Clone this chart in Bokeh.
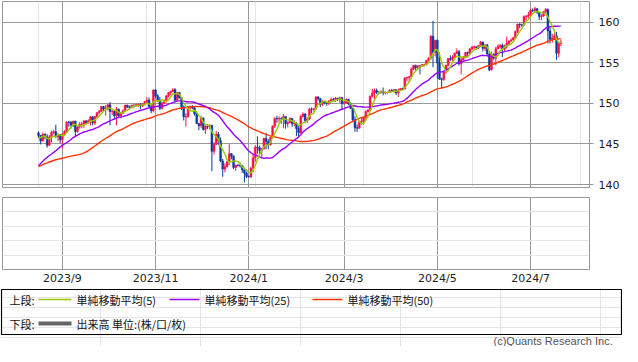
import numpy as np
import pandas as pd
from bokeh.plotting import figure
from bokeh.layouts import column
from bokeh.models import Range1d, FixedTicker, Grid, ColumnDataSource
from bokeh.core.properties import value
from bokeh.embed import file_html
from bokeh.resources import INLINE

# ---------------- data (USD/JPY daily, weekdays) ----------------
start_date = "2023-08-17"
end_date = "2024-07-19"

# closes before the first candle (needed for the moving averages)
prior_closes = [139.4, 139.6, 140.2, 140.0, 140.3, 141.8, 141.9, 141.4, 141.9, 143.1, 143.7, 143.5, 143.6, 144.3, 144.8, 144.3,
                144.7, 144.5, 144.6, 144.1, 142.1, 141.3, 140.4, 138.6, 138.1, 138.8, 138.7, 139.4, 139.8, 140.0, 141.8, 141.5,
                140.9, 140.3, 139.5, 141.2, 142.3,
                143.3, 143.3, 142.6, 141.8, 142.5, 143.4, 143.7, 144.7, 144.9, 145.6, 145.6, 146.4]

opens = [
    # Aug 2023
    146.37, 146.05, 145.38, 146.20, 145.88, 144.85, 145.85, 146.42, 146.52, 145.88, 146.15,
    # Sep
    145.52, 146.20, 146.55, 147.70, 147.68, 147.30, 147.82, 146.55, 147.10, 147.45, 147.48, 147.85, 147.60, 147.88, 148.35,
    147.60, 148.38, 148.85, 149.05, 149.62, 149.32,
    # Oct
    149.35, 149.85, 149.02, 149.05, 148.50, 149.30, 148.50, 148.75, 149.10, 149.80, 149.58, 149.50, 149.80, 149.78, 149.85,
    149.88, 149.70, 149.90, 150.20, 150.40, 149.60, 149.10,
    # Nov
    151.68, 150.95, 150.40, 149.40, 150.05, 150.40, 150.95, 151.35, 151.50, 151.70, 150.40, 151.35, 150.70, 149.60, 148.35,
    148.40, 149.55, 149.60, 149.45, 148.70, 147.52, 147.25,
    # Dec
    148.20, 146.80, 147.20, 147.15, 147.30, 144.10, 144.95, 146.20, 145.40, 142.90, 141.90, 142.20, 142.80, 143.80, 143.50,
    142.10, 142.40, 142.35, 142.30, 141.80, 141.40,
    # Jan 2024
    141.00, 140.95, 142.00, 143.30, 144.60, 144.55, 144.20, 144.40, 145.70, 145.30, 144.90, 145.80, 147.20, 148.15, 148.10,
    148.15, 148.10, 148.40, 147.50, 147.65, 148.15, 147.50, 147.60,
    # Feb
    146.90, 146.40, 148.40, 148.70, 147.90, 148.10, 149.30, 149.28, 149.35, 150.80, 150.60, 149.90, 150.20, 150.10, 150.00,
    150.30, 150.50, 150.48, 150.65, 150.50, 150.70,
    # Mar
    150.00, 150.10, 150.50, 150.00, 149.40, 148.00, 147.00, 146.95, 147.70, 147.80, 148.30, 149.00, 149.20, 150.90, 151.30,
    151.60, 151.40, 151.38, 151.50, 151.30, 151.32,
    # Apr
    151.35, 151.60, 151.58, 151.70, 151.30, 151.60, 151.85, 151.80, 153.15, 153.20, 153.30, 154.25, 154.70, 154.40, 154.65,
    154.60, 154.80, 154.82, 155.35, 155.60, 158.30, 156.30,
    # May
    157.80, 155.00, 153.00, 152.95, 153.90, 154.70, 155.55, 155.45, 155.75, 156.20, 156.40, 154.90, 155.40, 155.70, 156.30,
    156.20, 156.75, 156.95, 157.00, 156.85, 157.15, 157.60, 156.80,
    # Jun
    157.25, 156.10, 154.15, 156.10, 155.60, 156.75, 157.05, 157.20, 156.70, 157.05, 157.40, 157.70, 157.85, 158.10, 158.90,
    159.80, 159.70, 159.68, 160.75, 160.80,
    # Jul
    160.90, 161.50, 161.45, 161.70, 161.20, 160.75, 160.80, 161.30, 161.60, 158.95, 157.90, 158.05, 158.35, 156.20, 157.40,
]

highs = [
    146.56, 146.10, 146.40, 146.30, 146.20, 146.10, 146.64, 146.75, 147.37, 146.30, 146.20,
    146.30, 146.70, 147.80, 147.85, 147.85, 147.85, 147.87, 147.15, 147.70, 147.70, 147.95, 147.95, 148.05, 148.45, 148.40,
    148.45, 148.95, 149.20, 149.70, 149.70, 149.80,
    149.95, 150.16, 149.20, 149.15, 149.55, 149.35, 148.95, 149.30, 149.85, 149.85, 149.75, 149.85, 149.90, 149.95, 150.00,
    150.05, 150.00, 150.30, 150.75, 150.75, 149.85, 151.72,
    151.72, 151.15, 150.80, 150.20, 150.45, 151.00, 151.40, 151.60, 151.90, 151.90, 151.45, 151.40, 150.80, 149.75, 148.80,
    149.70, 149.75, 149.80, 149.60, 148.80, 147.60, 148.50,
    148.30, 147.30, 147.45, 147.45, 147.35, 145.20, 146.60, 146.50, 145.80, 143.15, 142.60, 142.85, 144.95, 143.90, 143.60,
    142.45, 142.50, 142.70, 142.40, 141.85, 141.60,
    141.10, 142.20, 143.70, 144.85, 145.95, 144.80, 144.45, 145.70, 146.40, 145.60, 145.90, 147.30, 148.30, 148.50, 148.40,
    148.30, 148.70, 148.40, 147.80, 148.30, 148.20, 147.90, 147.70,
    147.20, 148.60, 148.90, 148.80, 148.30, 149.45, 149.50, 149.45, 150.90, 150.90, 150.70, 150.40, 150.30, 150.15, 150.40,
    150.70, 150.70, 150.80, 150.70, 150.85, 150.80,
    150.40, 150.60, 150.60, 150.15, 149.40, 148.40, 147.40, 147.90, 148.20, 148.40, 149.15, 149.30, 150.95, 151.80, 151.85,
    151.85, 151.50, 151.60, 151.97, 151.50, 151.45,
    151.75, 151.80, 151.80, 151.75, 151.85, 151.90, 151.95, 153.25, 153.30, 153.40, 154.45, 154.75, 154.80, 154.70, 154.70,
    154.85, 154.90, 155.35, 155.75, 158.45, 160.20, 157.85,
    157.90, 156.30, 153.20, 154.00, 154.80, 155.60, 155.95, 155.95, 156.25, 156.80, 156.60, 155.65, 155.85, 156.35, 156.40,
    156.80, 157.10, 157.15, 157.05, 157.20, 157.70, 157.60, 157.20,
    157.30, 156.20, 156.40, 156.20, 157.00, 157.30, 157.30, 157.40, 157.25, 158.25, 157.80, 158.00, 158.20, 159.00, 159.85,
    159.90, 159.85, 160.85, 160.90, 161.30,
    161.70, 161.75, 161.95, 161.75, 161.30, 161.00, 161.40, 161.80, 161.75, 159.40, 158.60, 158.90, 158.85, 157.50, 157.90,
]

lows = [
    145.70, 144.95, 145.30, 145.60, 144.55, 144.75, 145.20, 146.20, 145.75, 145.35, 145.10,
    144.45, 146.00, 146.40, 147.15, 146.90, 147.10, 145.90, 146.40, 146.90, 146.95, 147.00, 147.45, 147.50, 147.30, 147.30,
    147.35, 148.20, 148.65, 148.95, 149.00, 148.50,
    149.15, 147.30, 148.60, 148.15, 147.30, 148.20, 148.15, 148.70, 149.00, 149.45, 149.25, 149.40, 149.50, 149.60, 149.55,
    149.30, 149.55, 149.75, 150.00, 149.55, 148.80, 148.90,
    150.70, 150.20, 149.20, 149.25, 149.90, 150.15, 150.75, 151.00, 151.40, 150.15, 150.20, 150.60, 149.20, 147.90, 147.15,
    148.20, 149.25, 149.30, 148.50, 147.50, 146.70, 147.00,
    146.65, 146.25, 146.85, 146.80, 141.65, 143.70, 144.90, 144.90, 142.75, 140.95, 141.50, 142.10, 142.40, 143.10, 141.90,
    141.70, 142.20, 142.10, 141.45, 140.25, 140.80,
    140.85, 140.80, 141.50, 142.80, 143.80, 143.65, 143.40, 144.30, 144.35, 144.35, 144.80, 145.70, 147.00, 147.60, 147.65,
    147.50, 146.95, 146.90, 147.05, 147.60, 147.10, 147.20, 146.00,
    145.90, 146.20, 148.30, 147.65, 147.60, 147.95, 148.80, 149.00, 149.20, 150.35, 149.55, 149.70, 149.90, 149.70, 149.80,
    150.15, 150.30, 150.20, 150.30, 150.10, 149.20,
    149.85, 150.00, 149.80, 149.30, 147.80, 146.50, 146.50, 146.90, 147.40, 147.40, 148.00, 148.90, 149.10, 150.75, 150.30,
    151.15, 151.10, 151.20, 151.00, 151.10, 151.20,
    151.30, 151.45, 151.35, 151.05, 150.80, 151.55, 151.65, 151.70, 152.75, 152.60, 153.20, 154.10, 154.10, 154.20, 153.60,
    154.55, 154.60, 154.70, 155.10, 155.40, 154.50, 155.80,
    153.05, 152.95, 151.85, 152.80, 153.70, 154.60, 155.25, 155.20, 155.65, 156.10, 154.70, 153.60, 155.30, 155.60, 155.80,
    156.00, 156.55, 156.70, 156.60, 156.70, 157.00, 156.40, 156.50,
    156.00, 154.00, 154.10, 155.40, 154.70, 156.70, 156.80, 155.70, 156.50, 156.80, 157.20, 157.60, 157.80, 157.95, 158.70,
    159.30, 159.40, 159.60, 160.30, 160.40,
    160.80, 161.30, 161.30, 161.10, 160.30, 160.30, 160.70, 161.20, 157.40, 157.40, 157.50, 157.90, 155.40, 155.70, 157.10,
]

closes = [
    146.05, 145.38, 146.20, 145.88, 144.85, 145.85, 146.42, 146.52, 145.88, 146.15, 145.52,
    146.20, 146.55, 147.70, 147.68, 147.30, 147.82, 146.55, 147.10, 147.45, 147.48, 147.85, 147.60, 147.88, 148.35, 147.60,
    148.38, 148.85, 149.05, 149.62, 149.32, 149.35,
    149.85, 149.02, 149.05, 148.50, 149.30, 148.50, 148.75, 149.10, 149.80, 149.58, 149.50, 149.80, 149.78, 149.85, 149.88,
    149.70, 149.90, 150.20, 150.40, 149.60, 149.10, 151.68,
    150.95, 150.40, 149.40, 150.05, 150.40, 150.95, 151.35, 151.50, 151.70, 150.40, 151.35, 150.70, 149.60, 148.35, 148.40,
    149.55, 149.60, 149.45, 148.70, 147.52, 147.25, 148.20,
    146.80, 147.20, 147.15, 147.30, 144.10, 144.95, 146.20, 145.40, 142.90, 141.90, 142.20, 142.80, 143.80, 143.50, 142.10,
    142.40, 142.35, 142.30, 141.80, 141.40, 141.00,
    140.95, 142.00, 143.30, 144.60, 144.55, 144.20, 144.40, 145.70, 145.30, 144.90, 145.80, 147.20, 148.15, 148.10, 148.15,
    148.10, 148.40, 147.50, 147.65, 148.15, 147.50, 147.60, 146.90,
    146.40, 148.40, 148.70, 147.90, 148.10, 149.30, 149.28, 149.35, 150.80, 150.60, 149.90, 150.20, 150.10, 150.00, 150.30,
    150.50, 150.48, 150.65, 150.50, 150.70, 150.00,
    150.10, 150.50, 150.00, 149.40, 148.00, 147.00, 146.95, 147.70, 147.80, 148.30, 149.00, 149.20, 150.90, 151.30, 151.60,
    151.40, 151.38, 151.50, 151.30, 151.32, 151.35,
    151.60, 151.58, 151.70, 151.30, 151.60, 151.85, 151.80, 153.15, 153.20, 153.30, 154.25, 154.70, 154.40, 154.65, 154.60,
    154.80, 154.82, 155.35, 155.60, 158.30, 156.30, 157.80,
    155.00, 153.00, 152.95, 153.90, 154.70, 155.55, 155.45, 155.75, 156.20, 156.40, 154.90, 155.40, 155.70, 156.30, 156.20,
    156.75, 156.95, 157.00, 156.85, 157.15, 157.60, 156.80, 157.25,
    156.10, 154.15, 156.10, 155.60, 156.75, 157.05, 157.20, 156.70, 157.05, 157.40, 157.70, 157.85, 158.10, 158.90, 159.80,
    159.70, 159.68, 160.75, 160.80, 160.90,
    161.50, 161.45, 161.70, 161.20, 160.75, 160.80, 161.30, 161.60, 158.95, 157.90, 158.05, 158.35, 156.20, 157.40, 157.50,
]

ma_periods = [5, 25, 50]
ma_colors = ["#99cc00", "#9900ff", "#ff3300"]
ma_names = ["単純移動平均(5)", "単純移動平均(25)", "単純移動平均(50)"]
label_months = [1, 3, 5, 7, 9, 11]
y_ticks = [140, 145, 150, 155, 160]

UP = "#ff0f45"
DOWN = "#0b3a9c"
GRID = "#999999"

# ---------------- derived ----------------
dates = pd.bdate_range(start_date, end_date)
n = len(closes)
assert len(dates) == n == len(opens) == len(highs) == len(lows)
idx = np.arange(n)

tick_idx, tick_lab = [], []
for i in range(1, n):
    if dates[i].month != dates[i - 1].month and dates[i].month in label_months:
        tick_idx.append(int(i))
        tick_lab.append(f"{dates[i].year}/{dates[i].month}")

o = np.array(opens); h = np.array(highs); l = np.array(lows); c = np.array(closes)
col = [UP if cc >= oo else DOWN for oo, cc in zip(o, c)]
src = ColumnDataSource(dict(x=idx, o=o, h=h, l=l, c=c,
                            top=np.maximum(o, c), bot=np.minimum(o, c), col=col))

allc = np.array(prior_closes + closes)
mas = [np.convolve(allc, np.ones(p) / p, mode="valid")[-n:] for p in ma_periods]

W = 622
x_range = Range1d(-16.6, 254.2)

# ---------------- upper panel ----------------
pa = figure(width=W, height=192, x_range=x_range, y_range=Range1d(139.63, 162.59),
            output_backend="svg", toolbar_location=None,
            y_axis_location="right", x_axis_location=None,
            min_border_left=2, min_border_right=32, min_border_top=1, min_border_bottom=5,
            outline_line_color=GRID, outline_line_width=1)
pa.yaxis.ticker = FixedTicker(ticks=y_ticks)
pa.ygrid.ticker = FixedTicker(ticks=y_ticks)
pa.ygrid.grid_line_color = GRID
pa.yaxis.axis_line_color = None
pa.yaxis.major_tick_line_color = GRID
pa.yaxis.major_tick_out = 4
pa.yaxis.major_tick_in = 0
pa.yaxis.minor_tick_line_color = None
pa.yaxis.major_label_standoff = 5
pa.yaxis.major_label_text_font = "DejaVu Sans"
pa.yaxis.major_label_text_font_size = "11px"
pa.yaxis.major_label_text_color = "#222222"
pa.add_layout(Grid(dimension=0, ticker=FixedTicker(ticks=tick_idx), grid_line_color=GRID))

pa.segment(x0="x", y0="h", x1="x", y1="l", color="col", line_width=1, source=src)
pa.vbar(x="x", top="top", bottom="bot", width=0.85, fill_color="col", line_color="col",
        line_width=0.5, source=src)
for k in [2, 1, 0]:
    pa.line(idx, mas[k], line_color=ma_colors[k], line_width=1.4)

# ---------------- lower panel ----------------
pb = figure(width=W, height=95, x_range=x_range, y_range=Range1d(0, 1),
            output_backend="svg", toolbar_location=None, y_axis_location=None,
            min_border_left=2, min_border_right=32, min_border_top=5, min_border_bottom=14,
            outline_line_color=GRID, outline_line_width=1)
pb.xaxis.ticker = FixedTicker(ticks=tick_idx)
pb.xaxis.major_label_overrides = {t: s for t, s in zip(tick_idx, tick_lab)}
pb.xaxis.axis_line_color = None
pb.xaxis.major_tick_line_color = None
pb.xaxis.minor_tick_line_color = None
pb.xaxis.major_tick_out = 0
pb.xaxis.major_tick_in = 0
pb.xaxis.major_label_standoff = 2
pb.xaxis.major_label_text_font = "DejaVu Sans"
pb.xaxis.major_label_text_font_size = "11px"
pb.xaxis.major_label_text_color = "#222222"
pb.xgrid.ticker = FixedTicker(ticks=tick_idx)
pb.xgrid.grid_line_color = GRID

# ---------------- legend / credits ----------------
HC = 59
pc = figure(width=W, height=HC, x_range=Range1d(0, W), y_range=Range1d(HC, 0),
            output_backend="svg", toolbar_location=None,
            x_axis_location=None, y_axis_location=None,
            min_border_left=0, min_border_right=0, min_border_top=0, min_border_bottom=0,
            outline_line_color=None, frame_align=False)
pc.quad(left=[1], right=[W - 1], top=[2], bottom=[47], fill_color=None,
        line_color="black", line_width=1.2)
r1, r2 = 12, 36
jp = value("Noto Sans CJK JP")
pc.text(x=[9, 9], y=[r1, r2], text=["上段:", "下段:"], text_font=jp, text_font_size="11px",
        text_baseline="middle", text_color="#111111")
leg_x0 = [38, 169, 312]
leg_x1 = [71, 199, 342]
for k in range(3):
    pc.segment(x0=[leg_x0[k]], y0=[r1], x1=[leg_x1[k]], y1=[r1],
               line_color=ma_colors[k], line_width=1.3)
pc.text(x=[76, 204, 347], y=[r1] * 3, text=ma_names, text_font=jp, text_font_size="11px",
        text_baseline="middle", text_color="#111111")
pc.segment(x0=[38], y0=[r2], x1=[71], y1=[r2], line_color="#666666", line_width=4)
pc.text(x=[76], y=[r2], text=["出来高 単位:(株/口/枚)"], text_font=jp, text_font_size="11px",
        text_baseline="middle", text_color="#111111")
pc.text(x=[493], y=[53.5], text=["(c)Quants Research Inc."], text_font=value("Liberation Sans"),
        text_font_size="11px", text_align="left", text_baseline="middle", text_color="#555555")

layout = column(pa, pb, pc, spacing=0)
open("out.html", "w").write(file_html(layout, INLINE))
